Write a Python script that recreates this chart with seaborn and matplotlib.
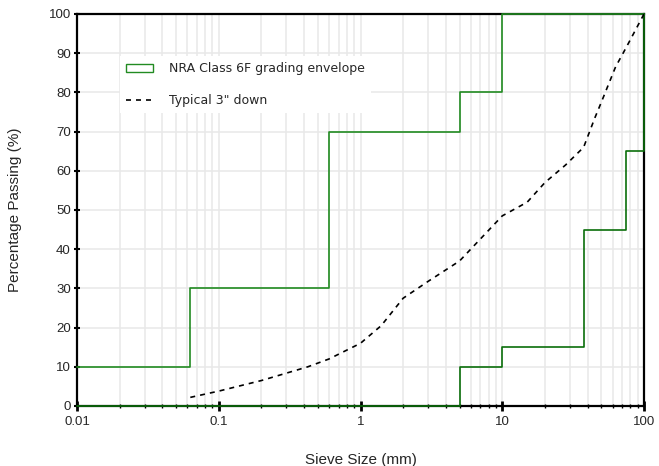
import numpy as np
import pandas as pd
import matplotlib
matplotlib.use("Agg")
import matplotlib.pyplot as plt
import seaborn as sns
from matplotlib.patches import Patch
from matplotlib.lines import Line2D
from matplotlib.ticker import LogLocator, NullFormatter, FixedLocator

GREEN = "#228b22"

# NRA Class 6F grading envelope (step limits)
upper_size = [0.01, 0.063, 0.6, 5, 10, 100]
upper_pass = [10, 30, 70, 80, 100, 100]
lower_size = [0.01, 5, 10, 37.5, 75, 100]
lower_pass = [0, 10, 15, 45, 65, 100]

# typical 3" down grading curve
typ_size = [0.063, 0.1, 0.2, 0.425, 0.6, 1, 1.4, 2, 3, 5, 10, 15, 20, 28, 37.5, 45, 50, 63, 75, 100]
typ_pass = [2.2, 3.8, 6.5, 10, 12, 16, 20.5, 27.5, 31.8, 37, 48.5, 52, 57, 61.5, 66, 73.5, 77.5, 86.5, 91.5, 100]

x_ticks = [0.01, 0.1, 1, 10, 100]
x_labels = ["0.01", "0.1", "1", "10", "100"]
y_ticks = list(range(0, 101, 10))

sns.set_theme(style="whitegrid")
plt.rcParams['font.family'] = ['Liberation Sans', 'DejaVu Sans']

fig = plt.figure(figsize=(6.59, 4.66), dpi=100)
ax = fig.add_axes([77/659, 1-406/466, (644-77)/659, (406-14)/466])

df_up = pd.DataFrame({"size": upper_size, "passing": upper_pass})
df_lo = pd.DataFrame({"size": lower_size, "passing": lower_pass})
df_typ = pd.DataFrame({"size": typ_size, "passing": typ_pass})

# envelope sits above the spines but below the tick marks
sns.lineplot(data=df_up, x="size", y="passing", ax=ax, color=GREEN, lw=1.2,
             drawstyle="steps-post", estimator=None, zorder=2.4, clip_on=False)
sns.lineplot(data=df_lo, x="size", y="passing", ax=ax, color=GREEN, lw=1.2,
             drawstyle="steps-post", estimator=None, zorder=2.4, clip_on=False)
sns.lineplot(data=df_typ, x="size", y="passing", ax=ax, color="black", lw=1.2,
             linestyle=(0, (3, 3)), estimator=None, zorder=3)
# the zero limit runs along the bottom axis and shows darker there
ax.lines[1].set_color("#0b6e0b")

ax.set_xscale("log")
ax.set_xlim(0.01, 100)
ax.set_ylim(0, 100)
ax.xaxis.set_major_locator(FixedLocator(x_ticks))
ax.set_xticklabels(x_labels)
ax.xaxis.set_minor_locator(LogLocator(base=10, subs=np.arange(2, 10)))
ax.xaxis.set_minor_formatter(NullFormatter())
ax.set_yticks(y_ticks)

ax.grid(True, which="major", color="#e8e8e8", lw=1.1)
ax.grid(True, which="minor", axis="x", color="#e8e8e8", lw=1.1)
ax.set_axisbelow(True)
ax.set_facecolor("white")

for s in ax.spines.values():
    s.set_color("black")
    s.set_linewidth(1.6)
    s.set_zorder(2)

ax.tick_params(axis="y", which="major", direction="inout", length=5, width=1.5,
               color="black", labelsize=9.5, pad=2, left=True)
ax.tick_params(axis="x", which="major", direction="inout", length=7, width=2,
               color="black", labelsize=9.5, pad=4, bottom=True)
ax.tick_params(axis="x", which="minor", direction="inout", length=3, width=1,
               color="black", bottom=True)

ax.set_xlabel("Sieve Size (mm)", fontsize=11, labelpad=18)
ax.set_ylabel("Percentage Passing (%)", fontsize=11, labelpad=19)

handles = [Patch(facecolor="none", edgecolor=GREEN, lw=1.0),
           Line2D([], [], color="black", lw=1.2, linestyle=(0, (3, 3)))]
leg = ax.legend(handles, ["NRA Class 6F grading envelope", 'Typical 3" down'],
                loc="upper left", bbox_to_anchor=(120/659, 1-56/466),
                bbox_transform=fig.transFigure, borderaxespad=0,
                frameon=True, facecolor="white", edgecolor="none", framealpha=1,
                fancybox=False, labelspacing=1.5, handlelength=2.1,
                handletextpad=1.3, borderpad=0.5,
                prop={"family": "DejaVu Sans", "size": 9})
leg.set_zorder(6)

fig.savefig("out.png", dpi=100)
